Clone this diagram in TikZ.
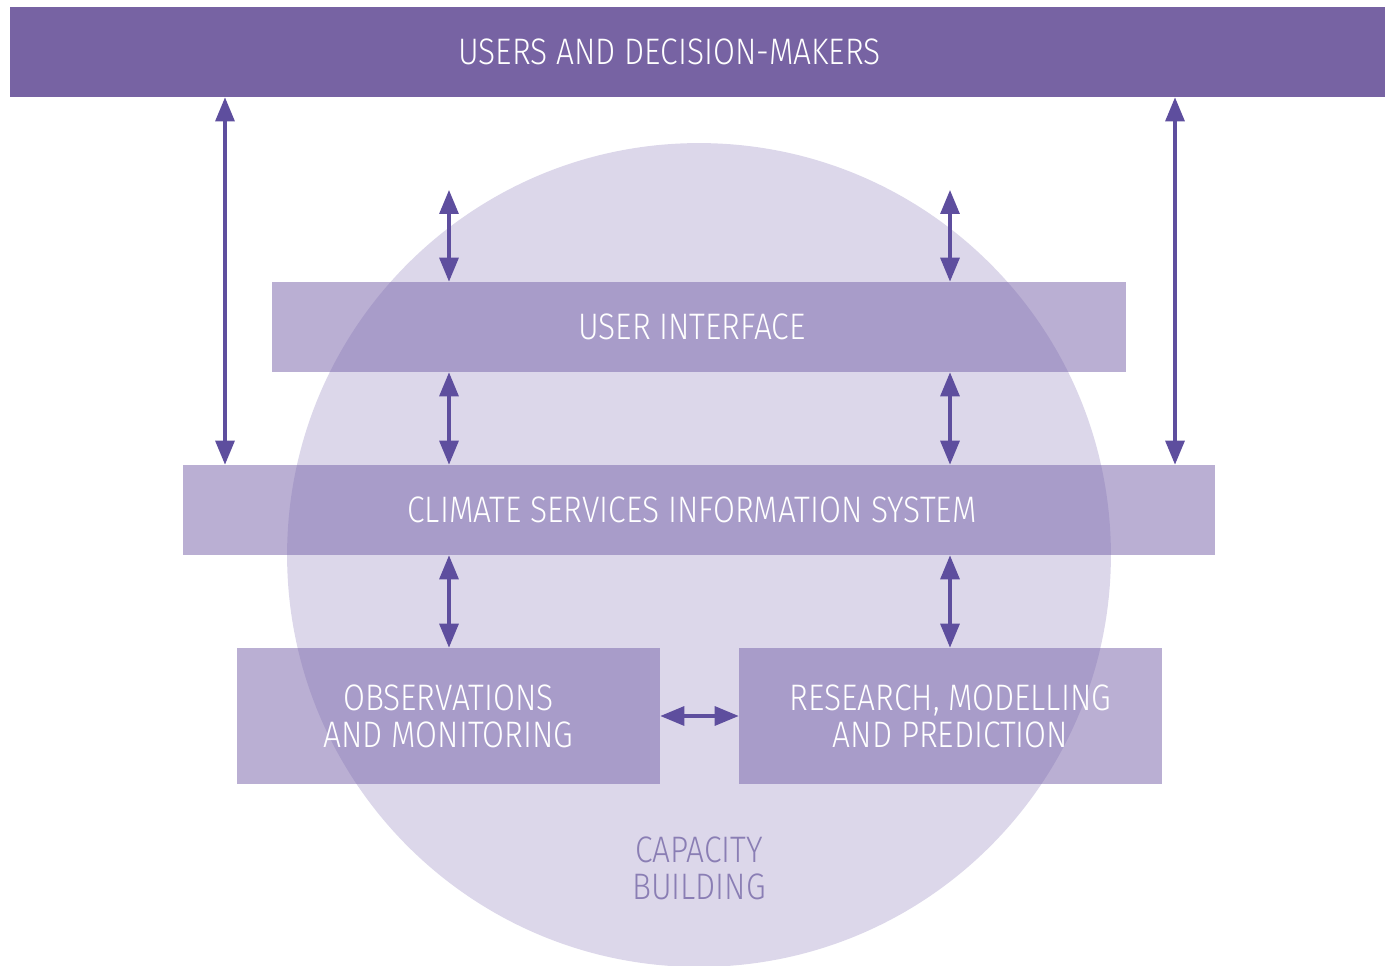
\documentclass[tikz,border=0pt]{standalone}
\usepackage{fontspec}
\newfontfamily\diafont{Fira Sans}[UprightFont=* Light, FakeStretch=0.86]
\usetikzlibrary{arrows.meta}

\definecolor{barpurple}{HTML}{7763A3}
\definecolor{boxpurple}{HTML}{7A66AB}
\definecolor{ringlilac}{HTML}{DCD7EA}
\definecolor{arrowpurple}{HTML}{5E4E9E}
\definecolor{capgray}{HTML}{8A7EB4}

\tikzset{
    box/.style={rectangle,fill=boxpurple,fill opacity=0.52,text opacity=1,text=white,
        inner sep=0pt,align=center,font=\diafont\fontsize{21}{21}\selectfont},
    link/.style={draw=arrowpurple,line width=1.8pt,
        {Triangle[length=0.48cm,width=0.38cm]}-{Triangle[length=0.48cm,width=0.38cm]}},
}

\begin{document}
\begin{tikzpicture}[x=0.02cm,y=-0.02cm]
        \useasboundingbox (0,0) rectangle (1387,966);

        \coordinate (c1) at (449,190);
        \coordinate (c2) at (950,190);
        \coordinate (o1) at (225,0);
        \coordinate (o2) at (1175,0);

        \node[circle,fill=ringlilac,minimum size=16.48cm,inner sep=0pt] (ring) at (699,555){};
        \node[text=capgray,align=center,font=\diafont\fontsize{21}{21}\selectfont] (cap) at (699,868){CAPACITY\\BUILDING};

        \node[rectangle,fill=barpurple,text=white,inner sep=0pt,minimum width=27.5cm,minimum height=1.8cm,
            font=\diafont\fontsize{21}{21}\selectfont] (users) at (697.5,52){\hspace*{-1.12cm}USERS AND DECISION-MAKERS};
        \node[box,minimum width=17.08cm,minimum height=1.8cm] (ui) at (699,327){\hspace*{-0.28cm}USER INTERFACE};
        \node[box,minimum width=20.64cm,minimum height=1.8cm] (csis) at (699,510){\hspace*{-0.28cm}CLIMATE SERVICES INFORMATION SYSTEM};
        \node[box,minimum width=8.46cm,minimum height=2.72cm] (obs) at (448.5,716){OBSERVATIONS\\AND MONITORING};
        \node[box,minimum width=8.46cm,minimum height=2.72cm] (res) at (950.5,716){RESEARCH, MODELLING\\AND PREDICTION};

        \draw[link] (c1) -- (ui.north -| c1);
        \draw[link] (c2) -- (ui.north -| c2);
        \draw[link] (ui.south -| c1) -- (csis.north -| c1);
        \draw[link] (ui.south -| c2) -- (csis.north -| c2);
        \draw[link] (csis.south -| c1) -- (obs.north -| c1);
        \draw[link] (csis.south -| c2) -- (res.north -| c2);
        \draw[link] (users.south -| o1) -- (csis.north -| o1);
        \draw[link] (users.south -| o2) -- (csis.north -| o2);
        \draw[link] (obs.east) -- (res.west);
    \end{tikzpicture}
\end{document}
